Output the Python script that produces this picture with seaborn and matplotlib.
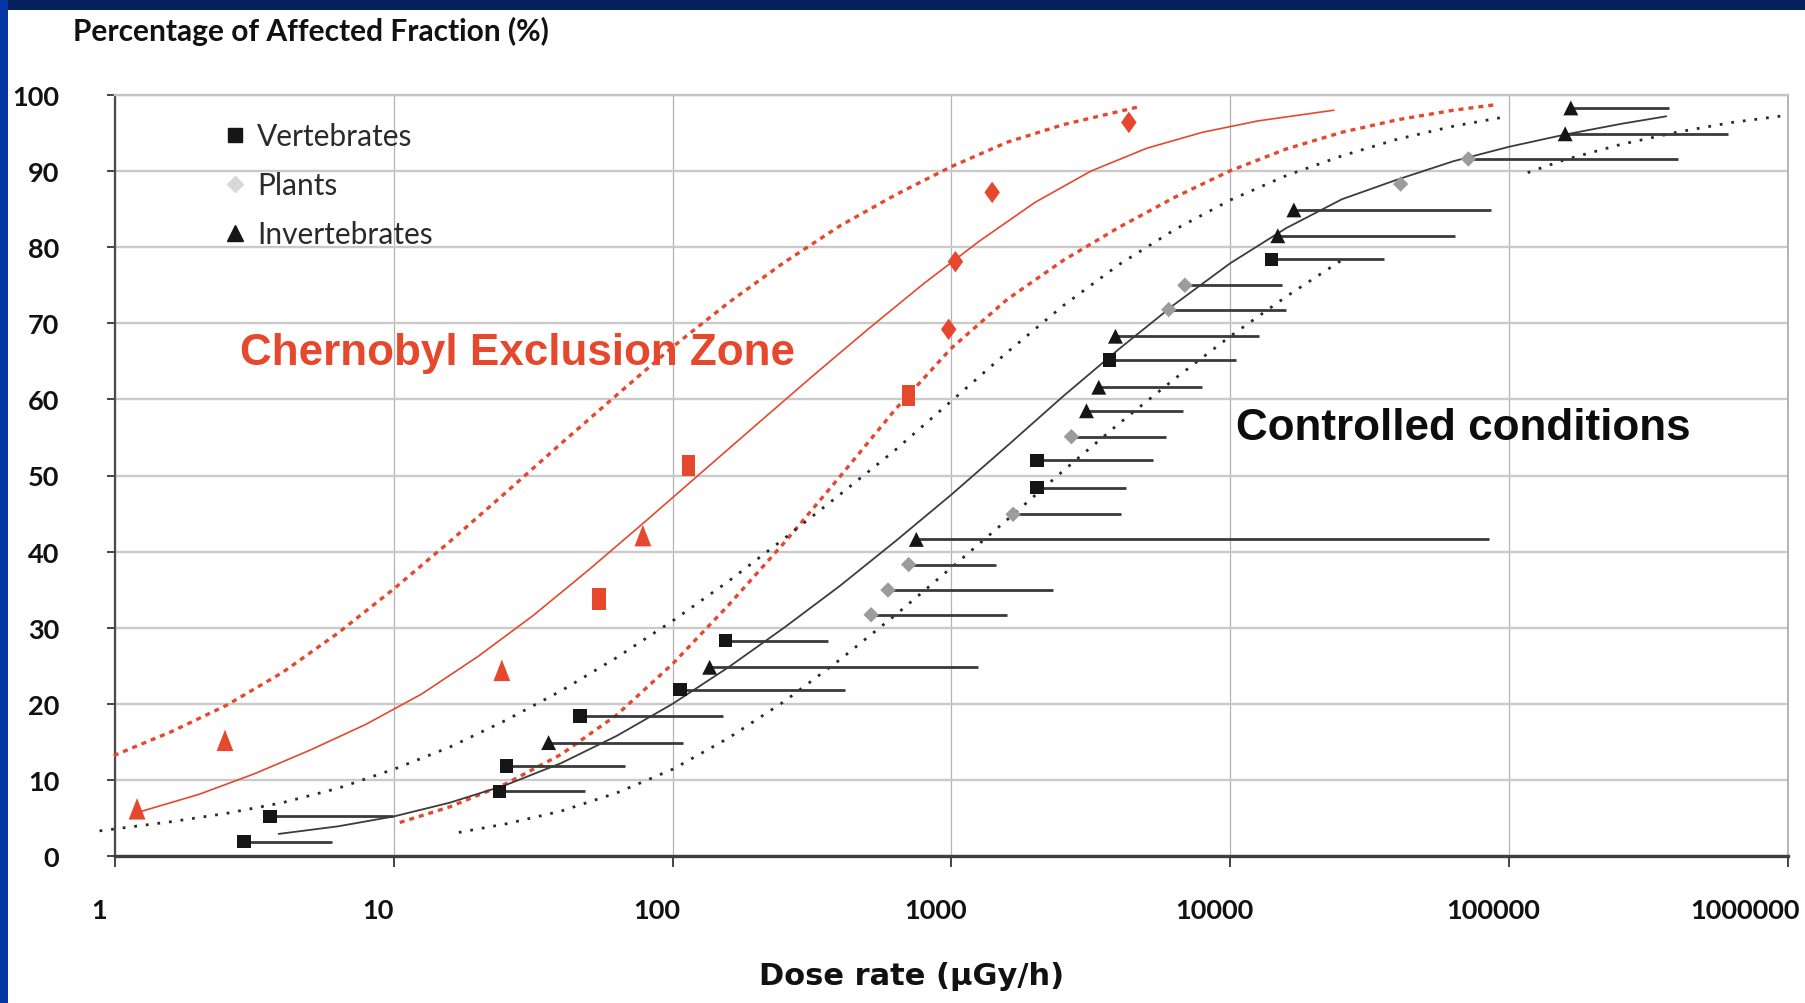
import numpy as np
import pandas as pd
import matplotlib
matplotlib.use("Agg")
import matplotlib.pyplot as plt
import matplotlib.transforms as mtransforms
from matplotlib.lines import Line2D
from matplotlib.patches import Rectangle
from matplotlib.ticker import FixedLocator, FixedFormatter, NullLocator
import seaborn as sns

# ---------------- data ----------------
x_ticks = [1, 10, 100, 1000, 10000, 100000, 1000000]
x_tick_labels = ["1", "10", "100", "1000", "10000", "100000", "1000000"]
y_ticks = [0, 10, 20, 30, 40, 50, 60, 70, 80, 90, 100]
y_tick_labels = ["0", "10", "20", "30", "40", "50", "60", "70", "80", "90", "100"]

# Chernobyl Exclusion Zone (field) observations
cez_dose = [1.2, 2.48, 24.4, 54.5, 78.2, 114, 702, 977, 1033, 1399, 4325]
cez_pct = [6.2, 15.2, 24.4, 33.8, 42.1, 51.3, 60.5, 69.2, 78.1, 87.2, 96.4]
cez_group = ["Invertebrates", "Invertebrates", "Invertebrates", "Vertebrates",
             "Invertebrates", "Vertebrates", "Vertebrates", "Plants", "Plants",
             "Plants", "Plants"]

# Controlled conditions observations (dose, %, group, upper dose of range)
cc_dose = [2.90, 3.60, 23.9, 25.4, 35.9, 46.6, 106.4, 135.7, 154.5, 515, 592, 702,
           748, 1663, 2028, 2028, 2692, 3048, 3374, 3688, 3873, 6015, 6870, 14060,
           14800, 16900, 40800, 71400, 158800, 166400]
cc_pct = [1.9, 5.2, 8.5, 11.8, 14.9, 18.4, 21.85, 24.8, 28.3, 31.7, 34.95, 38.3,
          41.6, 44.9, 48.4, 52.0, 55.1, 58.5, 61.6, 65.2, 68.3, 71.8, 75.0, 78.4,
          81.5, 84.9, 88.3, 91.6, 94.9, 98.3]
cc_group = ["Vertebrates", "Vertebrates", "Vertebrates", "Vertebrates", "Invertebrates",
            "Vertebrates", "Vertebrates", "Invertebrates", "Vertebrates", "Plants",
            "Plants", "Plants", "Invertebrates", "Plants", "Vertebrates", "Vertebrates",
            "Plants", "Invertebrates", "Invertebrates", "Vertebrates", "Invertebrates",
            "Plants", "Plants", "Vertebrates", "Invertebrates", "Invertebrates",
            "Plants", "Plants", "Invertebrates", "Invertebrates"]
cc_upper = [6.02, 9.9, 48.6, 67.2, 108.9, 151, 416, 1242, 361, 1585, 2321, 1442,
            84600, 4062, 4218, 5300, 5858, 6757, 7930, 10500, 12650, 15900, 15280,
            35550, 63700, 86300, np.nan, 402500, 610000, 375000]

# Fitted curves
cez_fit_dose = [1.2, 2.0, 3.16, 5.0, 7.94, 12.6, 20, 31.6, 50, 79.4, 126, 200, 316,
                501, 794, 1259, 1995, 3162, 5012, 7943, 12590, 23500]
cez_fit_pct = [5.7, 8.1, 10.8, 13.9, 17.3, 21.3, 26.2, 31.6, 37.6, 43.9, 50.3, 56.7,
               63.0, 69.2, 75.2, 80.8, 85.9, 90.0, 93.0, 95.1, 96.6, 98.0]
cez_upper_dose = [0.99, 1.585, 2.51, 3.98, 6.31, 10, 15.85, 25.1, 39.8, 63.1, 100,
                  158.5, 251, 398, 631, 1000, 1585, 2512, 4634]
cez_upper_pct = [13.2, 16.3, 19.8, 24.1, 29.3, 35.1, 41.3, 47.7, 54.2, 60.6, 66.9,
                 72.7, 78.0, 82.8, 86.9, 90.6, 93.8, 96.1, 98.4]
cez_lower_dose = [10.5, 15.85, 25.1, 39.8, 63.1, 100, 158.5, 251, 398, 631, 1000,
                  1585, 2512, 3981, 6310, 10000, 15850, 25120, 39810, 63100, 88300]
cez_lower_pct = [4.4, 6.45, 9.45, 13.35, 18.55, 25.25, 32.95, 41.15, 49.85, 58.75,
                 66.75, 73.15, 78.25, 82.6, 86.55, 90.05, 92.9, 95.1, 96.75, 98.0, 98.7]

cc_fit_dose = [3.86, 6.31, 10, 15.85, 25.1, 39.8, 63.1, 100, 158.5, 251, 398, 631,
               1000, 1585, 2512, 3981, 6310, 10000, 15850, 25120, 39810, 63100,
               100000, 158500, 251200, 366000]
cc_fit_pct = [2.9, 3.9, 5.2, 7.0, 9.3, 12.2, 15.8, 20.0, 24.8, 30.0, 35.5, 41.4,
              47.5, 53.9, 60.4, 66.6, 72.5, 77.9, 82.5, 86.3, 88.9, 91.3, 93.2, 94.8,
              96.2, 97.2]
cc_upper_dose = [0.88, 1.585, 2.51, 3.98, 6.31, 10, 15.85, 25.1, 39.8, 63.1, 100,
                 158.5, 251, 398, 631, 1000, 1585, 2512, 3981, 6310, 10000, 15850,
                 25120, 39810, 63100, 95800]
cc_upper_pct = [3.3, 4.5, 5.6, 7.0, 8.9, 11.4, 14.3, 17.8, 21.7, 26.1, 30.9, 36.1,
                41.7, 47.5, 53.4, 59.8, 66.2, 72.3, 77.7, 82.3, 86.2, 89.4, 92.0, 94.2,
                95.9, 97.1]
cc_lower_dose = [17.1, 25.1, 39.8, 63.1, 100, 158.5, 251, 398, 631, 1000, 1585, 2512,
                 3981, 6310, 10000, 15850, 24850,
                 116500, 158500, 251200, 398100, 631000, 975000]
cc_lower_pct = [3.1, 4.2, 5.9, 8.3, 11.4, 15.5, 20.3, 25.8, 31.7, 37.9, 44.2, 50.6,
                56.8, 62.7, 68.3, 73.5, 78.2,
                89.8, 91.5, 93.5, 95.1, 96.4, 97.3]
cc_lower_seg = [1] * 17 + [2] * 6

# ---------------- style ----------------
RED = "#e5482d"
DARK = "#161616"
GREY_PT = "#9c9c9c"

sns.set_theme(style="white")
plt.rcParams["font.family"] = ["Lato", "DejaVu Sans"]

fig = plt.figure(figsize=(18.06, 10.04), dpi=100, facecolor="white")
ax = fig.add_axes([115 / 1806, 147 / 1004, 1673 / 1806, 761 / 1004])
ax.set_facecolor("white")

# blue frame of the slide
fig.patches.append(Rectangle((0, 1 - 11 / 1004), 1, 11 / 1004, transform=fig.transFigure,
                             facecolor="#06205e", edgecolor="none", zorder=10))
fig.patches.append(Rectangle((0, 0), 8 / 1806, 1, transform=fig.transFigure,
                             facecolor="#0534a3", edgecolor="none", zorder=10))

ax.set_xscale("log")
ax.set_xlim(1, 1e6)
ax.set_ylim(0, 100)

# grid
ax.yaxis.grid(True, color="#cacaca", lw=1.7, zorder=0)
ax.xaxis.grid(True, color="#b3b3b3", lw=0.9, zorder=0)
ax.set_axisbelow(True)

# ---- curves ----
red_dotted = (0, (1.5, 1.5))
blk_dotted = (0, (1.0, 3.2))

sns.lineplot(x=cez_fit_dose, y=cez_fit_pct, ax=ax, color=RED, lw=1.2,
             sort=False, estimator=None, zorder=3)
sns.lineplot(x=cez_upper_dose, y=cez_upper_pct, ax=ax, color=RED, lw=2.4,
             linestyle=red_dotted, sort=False, estimator=None, zorder=3, clip_on=False)
sns.lineplot(x=cez_lower_dose, y=cez_lower_pct, ax=ax, color=RED, lw=2.4,
             linestyle=red_dotted, sort=False, estimator=None, zorder=3)

sns.lineplot(x=cc_fit_dose, y=cc_fit_pct, ax=ax, color="#3c3c3c", lw=1.3,
             sort=False, estimator=None, zorder=3)
sns.lineplot(x=cc_upper_dose, y=cc_upper_pct, ax=ax, color="#2a2a2a", lw=2.0,
             linestyle=blk_dotted, sort=False, estimator=None, zorder=3, clip_on=False)
lower_df = pd.DataFrame({"dose": cc_lower_dose, "pct": cc_lower_pct, "seg": cc_lower_seg})
sns.lineplot(data=lower_df, x="dose", y="pct", units="seg", ax=ax, color="#2a2a2a",
             lw=2.0, linestyle=blk_dotted, sort=False, estimator=None, zorder=3)

# ---- range bars for controlled conditions ----
cc_df = pd.DataFrame({"dose": cc_dose, "pct": cc_pct, "group": cc_group, "upper": cc_upper})
bars = cc_df.dropna(subset=["upper"])
ax.hlines(bars["pct"], bars["dose"], bars["upper"], color="#3a3a3a", lw=2.0, zorder=4)

# ---- markers ----
sns.scatterplot(data=cc_df, x="dose", y="pct", hue="group", style="group",
                palette={"Vertebrates": DARK, "Plants": GREY_PT, "Invertebrates": DARK},
                markers={"Vertebrates": "s", "Plants": "D", "Invertebrates": "^"},
                size="group",
                sizes={"Vertebrates": 95, "Plants": 62, "Invertebrates": 115},
                linewidth=0, ax=ax, legend=False, zorder=5)

tall_square = [(-0.62, -1), (0.62, -1), (0.62, 1), (-0.62, 1)]
tall_tri = [(0, 1), (-0.78, -1), (0.78, -1)]
tall_diamond = [(0, 1), (0.72, 0), (0, -1), (-0.72, 0)]
cez_df = pd.DataFrame({"dose": cez_dose, "pct": cez_pct, "group": cez_group})
sns.scatterplot(data=cez_df, x="dose", y="pct", style="group", color=RED,
                markers={"Vertebrates": tall_square, "Plants": tall_diamond,
                         "Invertebrates": tall_tri},
                s=240, linewidth=0, ax=ax, legend=False, zorder=5)

# ---- axes styling ----
ax.xaxis.set_major_locator(FixedLocator(x_ticks))
ax.xaxis.set_major_formatter(FixedFormatter(x_tick_labels))
ax.xaxis.set_minor_locator(NullLocator())
ax.yaxis.set_major_locator(FixedLocator(y_ticks))
ax.yaxis.set_major_formatter(FixedFormatter(y_tick_labels))

ax.tick_params(axis="x", which="major", bottom=True, direction="out", length=8,
               width=1.4, color="#444444", pad=22, labelsize=19.5, labelcolor="#111111")
ax.tick_params(axis="y", which="major", left=True, direction="out", length=6,
               width=1.4, color="#444444", pad=34, labelsize=19.5, labelcolor="#111111")
for lab in ax.get_xticklabels() + ax.get_yticklabels():
    lab.set_fontweight("bold")
    lab.set_fontfamily(["Lato", "DejaVu Sans"])
for lab in ax.get_yticklabels():
    lab.set_horizontalalignment("right")

xlabs = ax.get_xticklabels()
for i, lab in enumerate(xlabs):
    shift = -43 if i == len(xlabs) - 1 else -16
    lab.set_transform(lab.get_transform() +
                      mtransforms.ScaledTranslation(shift / 100, 0, fig.dpi_scale_trans))

for side, col, lw in [("left", "#4a4a4a", 1.6), ("bottom", "#3e3e3e", 2.4),
                      ("top", "#c4c4c4", 1.7), ("right", "#a8a8a8", 1.2)]:
    ax.spines[side].set_visible(True)
    ax.spines[side].set_color(col)
    ax.spines[side].set_linewidth(lw)

ax.set_xlabel("Dose rate (\u00b5Gy/h)", fontsize=22, fontweight="bold",
              family=["DejaVu Sans"], color="#111111")
ax.xaxis.label.set_va("center")
ax.xaxis.set_label_coords((912 - 115) / 1673, (857 - 977) / 761)
ax.set_ylabel("")

fig.text(73 / 1806, 1 - 31 / 1004, "Percentage of Affected Fraction (%)",
         fontsize=21.5, fontweight="bold", color="#111111", ha="left", va="center")

# annotations
ax.text(2.81, 66.2, "Chernobyl Exclusion Zone", color=RED, fontsize=31.7,
        fontweight="bold", family=["Liberation Sans", "DejaVu Sans"],
        ha="left", va="center", zorder=6)
ax.text(10520, 56.35, "Controlled conditions", color="#0d0d0d", fontsize=31.7,
        fontweight="bold", family=["Liberation Sans", "DejaVu Sans"],
        ha="left", va="center", zorder=6)

# legend
handles = [
    Line2D([], [], marker="s", ls="", color=DARK, markersize=10),
    Line2D([], [], marker="D", ls="", color="#d8d8d8", markersize=8),
    Line2D([], [], marker="^", ls="", color=DARK, markersize=11),
]
leg = ax.legend(handles, ["Vertebrates", "Plants", "Invertebrates"],
                loc="upper left", bbox_to_anchor=((224 - 115) / 1673, (857 - 123) / 761),
                frameon=False, fontsize=21.5, handlelength=0.75, handletextpad=0.35,
                labelspacing=0.71, borderpad=0, borderaxespad=0)
for t in leg.get_texts():
    t.set_color("#2a2a2a")

fig.savefig("out.png", dpi=100, facecolor="white")
